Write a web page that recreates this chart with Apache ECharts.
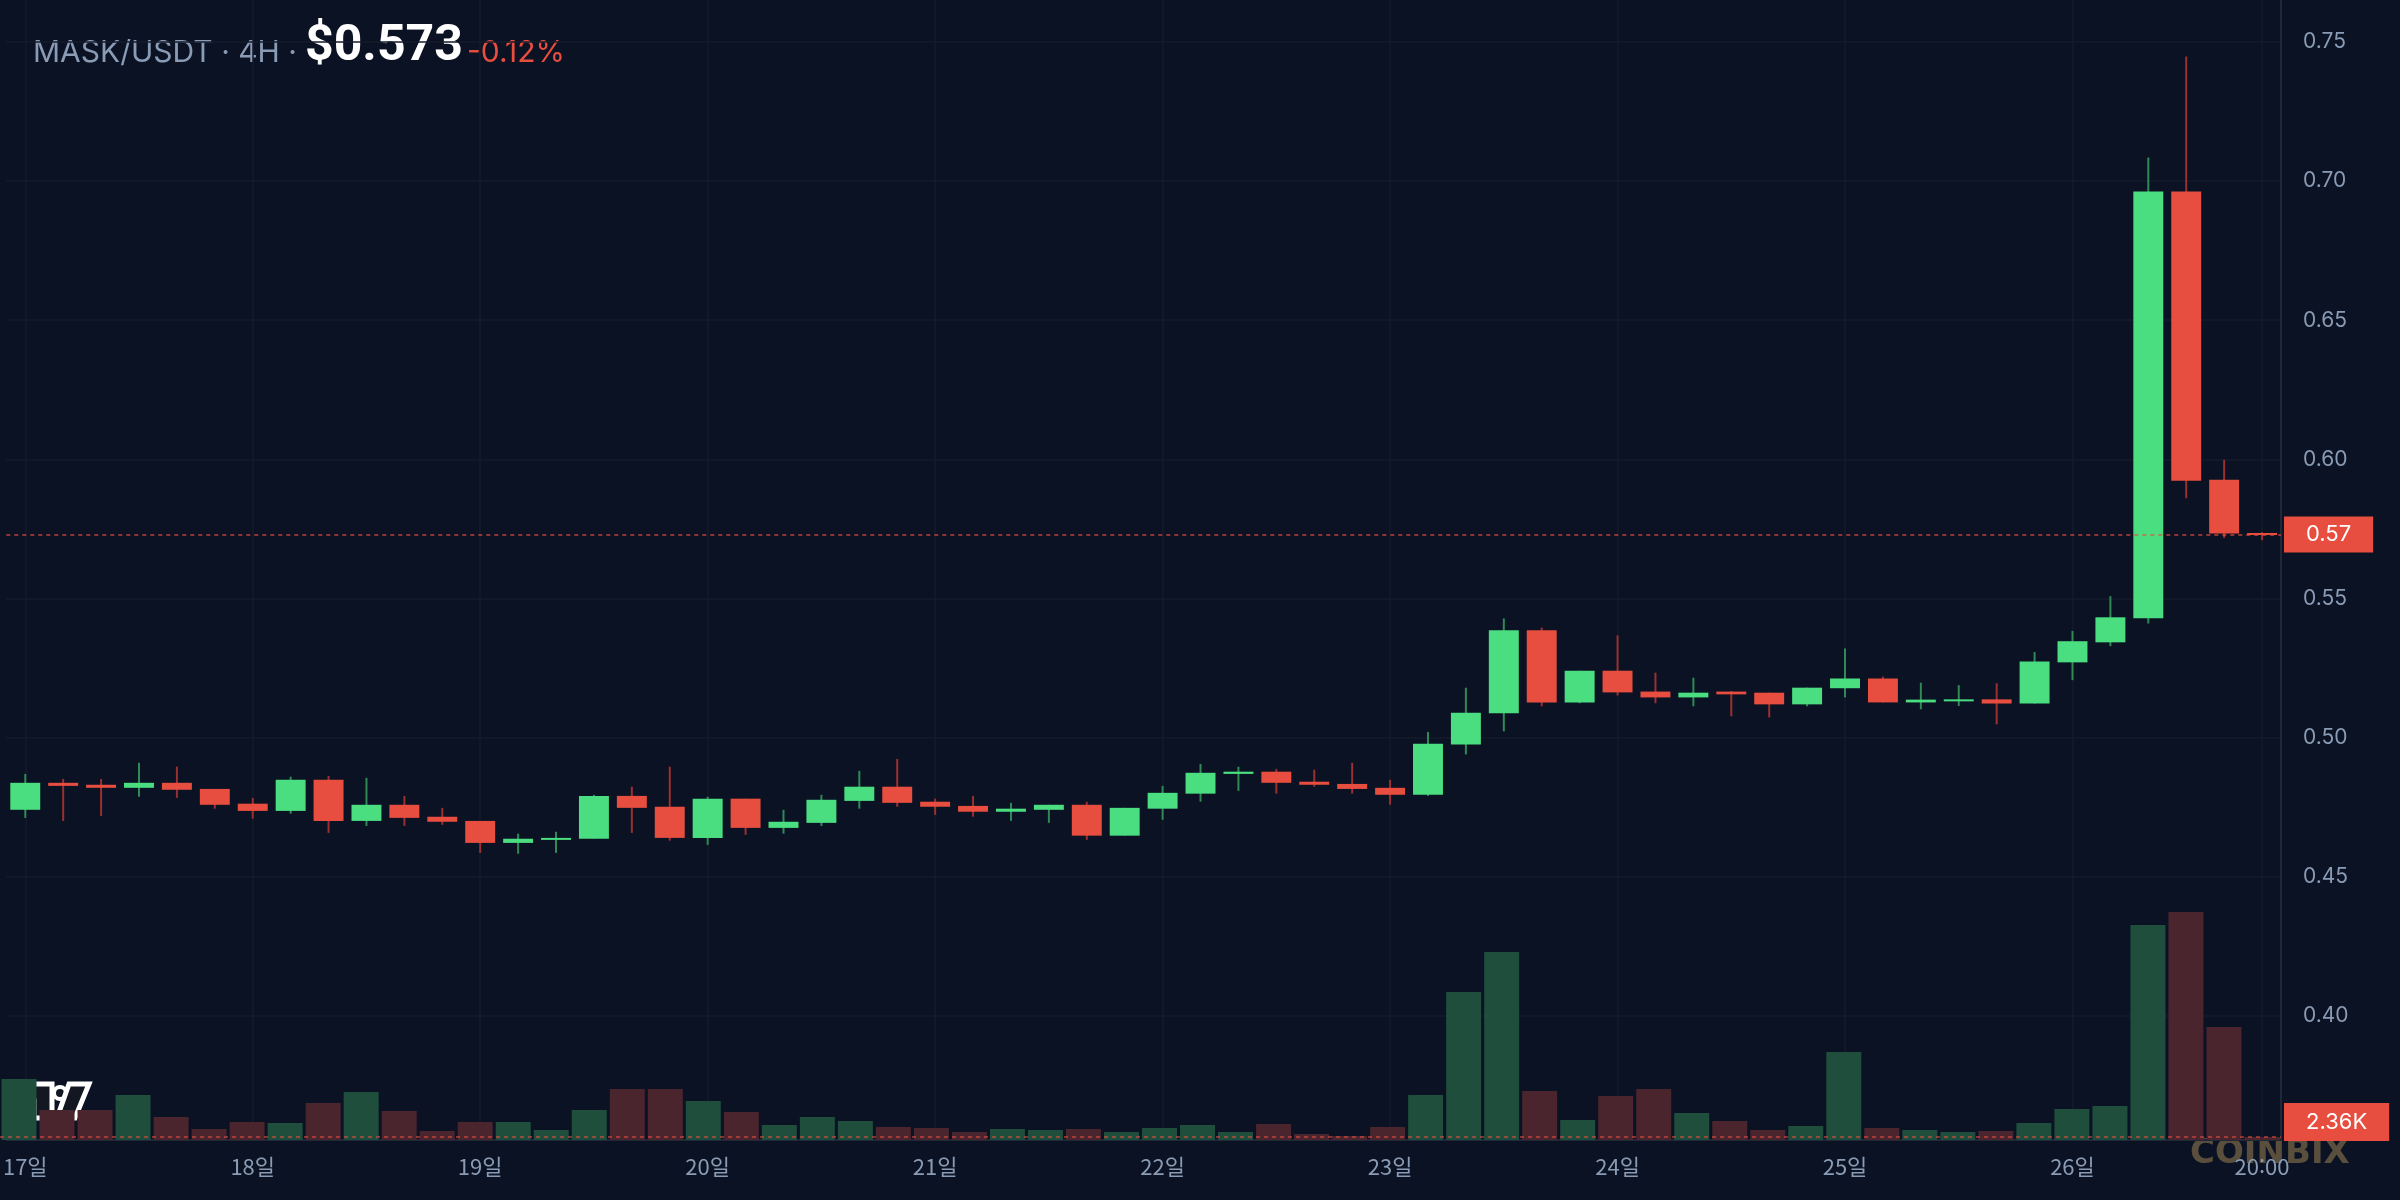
<!DOCTYPE html>
<html lang="ko">
<head>
<meta charset="UTF-8">
<title>MASK/USDT 4H</title>
<style>
    html, body { margin: 0; padding: 0; background: #0a1223; }
    #chart { width: 2400px; height: 1200px; }
</style>
</head>
<body>
<div id="chart"></div>

<script src="https://cdn.jsdelivr.net/npm/echarts@6/dist/echarts.min.js"></script>
<script>
// 4H candles, 17th 00:00 -> 26th 20:00
var days = [17, 18, 19, 20, 21, 22, 23, 24, 25, 26];
var hours = ['00:00', '04:00', '08:00', '12:00', '16:00', '20:00'];
var categories = [];
days.forEach(function (d) {
    hours.forEach(function (h) { categories.push(d + '일 ' + h); });
});

var opens = [
    0.4740, 0.4837, 0.4830, 0.4819, 0.4837, 0.4815, 0.4762, 0.4736, 0.4848, 0.4700,
    0.4758, 0.4715, 0.4700, 0.4621, 0.4632, 0.4636, 0.4790, 0.4751, 0.4639, 0.4780,
    0.4675, 0.4693, 0.4772, 0.4823, 0.4769, 0.4754, 0.4733, 0.4740, 0.4758, 0.4647,
    0.4744, 0.4798, 0.4869, 0.4877, 0.4841, 0.4833, 0.4819, 0.4794, 0.4975, 0.5087,
    0.5385, 0.5126, 0.5240, 0.5165, 0.5144, 0.5165, 0.5161, 0.5119, 0.5177, 0.5212,
    0.5126, 0.5130, 0.5137, 0.5122, 0.5270, 0.5342, 0.5429, 0.6963, 0.5926, 0.5735
];
var closes = [
    0.4837, 0.4826, 0.4819, 0.4837, 0.4812, 0.4758, 0.4736, 0.4848, 0.4700, 0.4758,
    0.4711, 0.4697, 0.4621, 0.4636, 0.4639, 0.4790, 0.4747, 0.4639, 0.4780, 0.4675,
    0.4697, 0.4776, 0.4823, 0.4765, 0.4751, 0.4733, 0.4744, 0.4758, 0.4647, 0.4747,
    0.4801, 0.4873, 0.4877, 0.4837, 0.4830, 0.4815, 0.4794, 0.4977, 0.5089, 0.5385,
    0.5126, 0.5240, 0.5162, 0.5144, 0.5161, 0.5155, 0.5119, 0.5179, 0.5212, 0.5126,
    0.5136, 0.5137, 0.5122, 0.5273, 0.5346, 0.5432, 0.6963, 0.5923, 0.5733, 0.5730
];
var lows = [
    0.4711, 0.4700, 0.4718, 0.4787, 0.4783, 0.4744, 0.4708, 0.4726, 0.4657, 0.4682,
    0.4682, 0.4686, 0.4585, 0.4582, 0.4585, 0.4636, 0.4657, 0.4629, 0.4614, 0.4650,
    0.4654, 0.4682, 0.4744, 0.4751, 0.4722, 0.4715, 0.4700, 0.4693, 0.4632, 0.4647,
    0.4704, 0.4769, 0.4808, 0.4798, 0.4823, 0.4798, 0.4758, 0.4790, 0.4939, 0.5022,
    0.5112, 0.5123, 0.5151, 0.5123, 0.5112, 0.5076, 0.5072, 0.5112, 0.5144, 0.5126,
    0.5101, 0.5113, 0.5047, 0.5122, 0.5206, 0.5328, 0.5410, 0.5860, 0.5717, 0.5709
];
var highs = [
    0.4869, 0.4851, 0.4851, 0.4909, 0.4895, 0.4815, 0.4783, 0.4859, 0.4862, 0.4855,
    0.4790, 0.4747, 0.4700, 0.4654, 0.4661, 0.4794, 0.4823, 0.4895, 0.4787, 0.4780,
    0.4740, 0.4794, 0.4880, 0.4923, 0.4780, 0.4790, 0.4765, 0.4758, 0.4769, 0.4747,
    0.4826, 0.4905, 0.4895, 0.4887, 0.4884, 0.4909, 0.4848, 0.5020, 0.5179, 0.5428,
    0.5395, 0.5240, 0.5367, 0.5233, 0.5215, 0.5167, 0.5161, 0.5179, 0.5320, 0.5219,
    0.5197, 0.5188, 0.5195, 0.5307, 0.5383, 0.5508, 0.7085, 0.7448, 0.5998, 0.5738
];
// volume in K
var volumes = [
    48.0, 23.6, 23.6, 35.4, 18.1, 8.7, 14.2, 13.4, 29.1, 37.8,
    22.8, 7.1, 14.2, 14.2, 7.9, 23.6, 40.1, 40.1, 30.7, 22.0,
    11.8, 18.1, 15.0, 10.2, 9.4, 6.3, 8.7, 7.9, 8.7, 6.3,
    9.4, 11.8, 6.3, 12.6, 4.7, 3.1, 10.2, 35.4, 116.5, 148.0,
    38.6, 15.7, 34.6, 40.1, 21.2, 15.0, 7.9, 11.0, 69.3, 9.4,
    7.9, 6.3, 7.1, 13.4, 24.4, 26.8, 169.2, 179.4, 88.9, 2.36
];
var priceTicks = [0.40, 0.45, 0.50, 0.55, 0.60, 0.65, 0.70, 0.75];
var lastPrice = 0.573;
var lastVolume = 2.36;

var UP = '#4ade80', DOWN = '#e84e3f';
var UP_WICK = '#2f8a55', DOWN_WICK = '#9a3030';
var UP_VOL = '#1f4e3d', DOWN_VOL = '#4b252d';
var LABEL = '#8a9bb5', GRID = '#151d2d';

var candleData = categories.map(function (c, i) {
    return [i, opens[i], closes[i], lows[i], highs[i]];
});
var volData = volumes.map(function (v, i) {
    return {
        value: v,
        itemStyle: { color: closes[i] >= opens[i] ? UP_VOL : DOWN_VOL }
    };
});

function showLabel(idx) {
    return idx % 6 === 0 || idx === categories.length - 1;
}

function renderCandle(params, api) {
    var i = api.value(0);
    var pO = api.coord([i, api.value(1)]);
    var pC = api.coord([i, api.value(2)]);
    var pL = api.coord([i, api.value(3)]);
    var pH = api.coord([i, api.value(4)]);
    var w = api.size([1, 0])[0] * 0.79;
    var up = api.value(2) >= api.value(1);
    var top = Math.min(pO[1], pC[1]);
    var h = Math.max(Math.abs(pO[1] - pC[1]), 2);
    return {
        type: 'group',
        children: [
            {
                type: 'line',
                shape: { x1: pO[0], y1: pH[1], x2: pO[0], y2: pL[1] },
                style: { stroke: up ? UP_WICK : DOWN_WICK, lineWidth: 2 }
            },
            {
                type: 'rect',
                shape: { x: pO[0] - w / 2, y: top, width: w, height: h },
                style: { fill: up ? UP : DOWN }
            }
        ]
    };
}

var chart = echarts.init(document.getElementById('chart'));
chart.setOption({
    backgroundColor: '#0a1223',
    animation: false,
    grid: [
        { left: -2, right: 119, top: 0, bottom: 60 },
        { left: -2, right: 119, top: 740, bottom: 60 }
    ],
    xAxis: [
        {
            type: 'category', gridIndex: 0, data: categories, boundaryGap: true,
            axisLine: { show: true, lineStyle: { color: '#1f2738', width: 2 } },
            axisTick: { show: false },
            axisLabel: {
                interval: function (idx) { return showLabel(idx); },
                formatter: function (val) {
                    var parts = val.split(' ');
                    return parts[1] === '00:00' ? parts[0] : parts[1];
                },
                color: LABEL, fontSize: 22, margin: 16,
                fontFamily: 'Noto Sans CJK KR'
            },
            splitLine: {
                show: true, alignWithLabel: true,
                interval: function (idx) { return showLabel(idx); },
                lineStyle: { color: GRID, width: 1.5 }
            }
        },
        {
            type: 'category', gridIndex: 1, data: categories, boundaryGap: true,
            axisLine: { show: false }, axisTick: { show: false },
            axisLabel: { show: false }, splitLine: { show: false }
        }
    ],
    yAxis: [
        {
            type: 'value', gridIndex: 0, position: 'right',
            min: 0.3553, max: 0.7651,
            axisLine: { show: true, lineStyle: { color: '#1f2738', width: 2 } },
            axisTick: { show: false, customValues: priceTicks },
            axisLabel: {
                customValues: priceTicks,
                formatter: function (v) { return v.toFixed(2); },
                color: LABEL, fontSize: 21, margin: 22, fontFamily: 'Inter'
            },
            splitLine: { show: true, lineStyle: { color: GRID, width: 1.5 } }
        },
        {
            type: 'value', gridIndex: 1, min: 0, max: 314.8,
            axisLine: { show: false }, axisTick: { show: false },
            axisLabel: { show: false }, splitLine: { show: false }
        }
    ],
    series: [
        {
            name: 'Volume', type: 'bar', xAxisIndex: 1, yAxisIndex: 1,
            data: volData, barWidth: 35, clip: false,
            markLine: {
                symbol: 'none', silent: true, precision: 4,
                lineStyle: { color: 'rgba(232,78,63,0.55)', type: [4, 4], width: 2 },
                label: {
                    position: 'end', distance: 3, offset: [0, -15],
                    formatter: lastVolume.toFixed(2) + 'K',
                    backgroundColor: DOWN, color: '#ffffff',
                    fontSize: 22, fontFamily: 'Inter', padding: [8, 22]
                },
                data: [{ yAxis: lastVolume }]
            }
        },
        {
            name: 'MASK/USDT', type: 'custom', xAxisIndex: 0, yAxisIndex: 0,
            data: candleData,
            encode: { x: 0, y: [1, 2, 3, 4] },
            renderItem: renderCandle,
            markLine: {
                symbol: 'none', silent: true, precision: 4,
                lineStyle: { color: 'rgba(232,78,63,0.8)', type: [4, 4], width: 1.5 },
                label: {
                    position: 'end', distance: 3,
                    formatter: lastPrice.toFixed(2),
                    backgroundColor: DOWN, color: '#ffffff',
                    fontSize: 22, fontFamily: 'Inter', padding: [7, 22]
                },
                data: [{ yAxis: lastPrice }]
            }
        }
    ],
    graphic: [
        {
            type: 'text', left: 33, top: 38,
            style: { text: 'MASK/USDT · 4H ·', fill: LABEL, font: '30px Inter' }
        },
        {
            type: 'text', left: 305, top: 22,
            style: { text: '$0.573', fill: '#ffffff', font: 'bold 50px Roboto' }
        },
        {
            type: 'text', left: 467, top: 38,
            style: { text: '-0.12%', fill: '#e84e3f', font: '30px Inter' }
        },
        {
            // watermark logo, bottom left
            type: 'group', x: 22, y: 1084, z: 100,
            children: [
                {
                    type: 'polygon',
                    shape: { points: [[0, 0], [30, 0], [30, 34], [12, 34], [12, 17], [0, 17]] },
                    style: { fill: '#131722', stroke: '#ffffff', lineWidth: 5, lineJoin: 'miter' }
                },
                {
                    type: 'circle', shape: { cx: 38, cy: 9, r: 6 },
                    style: { fill: '#131722', stroke: '#ffffff', lineWidth: 4 }
                },
                {
                    type: 'polygon',
                    shape: { points: [[47, 0], [67, 0], [53, 34], [35, 34]] },
                    style: { fill: '#131722', stroke: '#ffffff', lineWidth: 5, lineJoin: 'miter' }
                }
            ]
        },
        {
            type: 'text', left: 2190, top: 1137,
            style: { text: 'COINBIX', fill: 'rgba(200,165,95,0.42)', font: 'bold 34px "DejaVu Sans"' }
        }
    ]
});
</script>
</body>
</html>
